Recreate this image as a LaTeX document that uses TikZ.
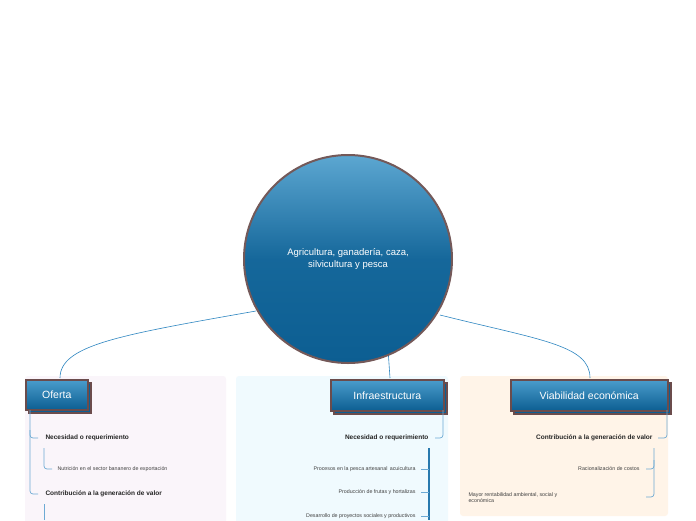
\documentclass[tikz,border=0pt]{standalone}
\usepackage{fontspec}
\setmainfont{Liberation Sans}
\begin{document}
\begin{tikzpicture}[x=1pt,y=-1pt,
 hdr/.style={draw=black!70!red!40!gray,line width=1.5pt,top color=cA,bottom color=cB,text=white,font=\fontsize{10.5}{12}\selectfont,inner sep=0pt,anchor=north west},
 shad/.style={draw=black!70!red!40!gray,line width=1.5pt,fill=cB},
 lnk/.style={draw=cL,line width=0.6pt},
 tl/.style={draw=cL!70,line width=0.7pt,rounded corners=3pt},
 big/.style={font=\fontsize{6.5}{8}\selectfont\bfseries\color{black!85}},
 sm/.style={font=\fontsize{5.3}{6.5}\selectfont\color{black!75}}]
\definecolor{cA}{HTML}{4A9DCC}\definecolor{cB}{HTML}{0C5E92}\definecolor{cL}{HTML}{2E86C1}
\useasboundingbox (0,0) rectangle (696,520);
\fill[white] (0,0) rectangle (696,520);
% panels
\fill[rounded corners=3pt,fill=violet!4] (25,376) rectangle (226,525);
\fill[rounded corners=3pt,fill=cyan!6] (236,376) rectangle (448,525);
\fill[rounded corners=3pt,fill=orange!9] (460,376) rectangle (668,516);
% links
\coordinate (c1) at (256,311); \coordinate (c2) at (387,335); \coordinate (c3) at (440,315);
\draw[lnk] (c1) .. controls (120,335) and (60,345) .. (60,378);
\draw[lnk] (c2) -- (390,378);
\draw[lnk] (c3) .. controls (540,340) and (590,345) .. (590,378);
% circle
\node[circle,minimum size=208pt,draw=black!65!red!30!gray,line width=2pt,
 shading=axis,top color=cA!90,bottom color=cB,middle color=cB!85!cA,text=white,align=center,
 font=\fontsize{9.5}{12}\selectfont] (root) at (348,259) {Agricultura, ganadería, caza,\\silvicultura y pesca};
% headers
\fill[shad] (29,383) rectangle (91,413);
\node[hdr,minimum width=62pt,minimum height=30pt] (of) at (25,379) {Oferta};
\fill[shad] (334,383) rectangle (447,414);
\node[hdr,minimum width=113pt,minimum height=31pt] (inf) at (330,379) {Infraestructura};
\fill[shad] (514,383) rectangle (671,414);
\node[hdr,minimum width=157pt,minimum height=31pt] (vi) at (510,379) {Viabilidad económica};
% Oferta tree
\draw[tl] (30,410) |- (38,438); \draw[tl] (30,430) |- (38,494);
\draw[tl] (44,448) |- (52,469);
\draw[tl] (44,504) -- (44,520);
\node[big,anchor=west] (o1) at (42,438) {Necesidad o requerimiento};
\node[sm,anchor=west] (o2) at (54,469) {Nutrición en el sector bananero de exportación};
\node[big,anchor=west] (o3) at (42,494) {Contribución a la generación de valor};
% Infra tree
\draw[tl] (443,410) |- (435,438);
\node[big,anchor=east] (i1) at (432,438) {Necesidad o requerimiento};
\draw[draw=cL!90!black,line width=1.2pt] (429,448) -- (429,520);
\foreach \y/\t in {469/Procesos en la pesca artesanal\, acuicultura,492/Producción de frutas y hortalizas,516/Desarrollo de proyectos sociales y productivos}{
 \draw[tl] (429,\y) -- (421,\y);
 \node[sm,anchor=east] at (419,\y) {\t};}
% Viab tree
\draw[tl] (667,410) |- (658,438);
\node[big,anchor=east] (v1) at (656,438) {Contribución a la generación de valor};
\draw[tl] (654,448) |- (646,469); \draw[tl] (654,460) |- (646,497);
\node[sm,anchor=east] (v2) at (643,469) {Racionalización de costos};
\node[sm,anchor=north west,align=left] (v3) at (465,489) {Mayor rentabilidad ambiental, social y\\económica};
\end{tikzpicture}
\end{document}
